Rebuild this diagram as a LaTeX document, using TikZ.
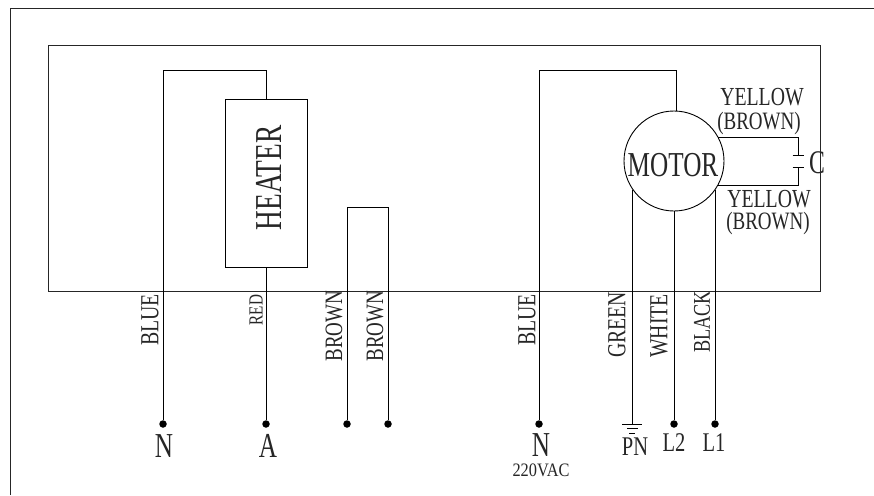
\documentclass[tikz,border=0pt]{standalone}
\usepackage{fontspec}
\newfontfamily\narrowfont[FakeStretch=0.76]{Liberation Serif}
\newfontfamily\bigfont[FakeStretch=0.72]{Liberation Serif}
\newfontfamily\widefont[FakeStretch=0.86]{Liberation Serif}
\tikzset{
  wire/.style={line width=0.9pt,color=black},
  frameline/.style={line width=1pt,color=black!85},
  term/.style={circle,fill=black,inner sep=0,minimum size=7.5pt},
  lab/.style={inner sep=0,text=black!85,font=\narrowfont\fontsize{#1}{#1}\selectfont},
  blab/.style={inner sep=0,text=black!85,font=\bigfont\fontsize{#1}{#1}\selectfont},
  vlab/.style={lab=#1,rotate=90}
}
\begin{document}
\begin{tikzpicture}[x=1pt,y=-1pt]
\useasboundingbox (0,0) rectangle (874,495);
\fill[white] (0,0) rectangle (874,495);
\coordinate (fa) at (10,495); \coordinate (fb) at (10,9); \coordinate (fc) at (874,9);
\draw[frameline] (fa) -- (fb) -- (fc);
\node[draw,frameline,inner sep=0,minimum width=772pt,minimum height=245pt] (box) at (434,168.5) {};
\node[draw,wire,inner sep=0,minimum width=82pt,minimum height=168pt] (heater) at (266,183) {};
\node[blab=38,rotate=90] (heatertxt) at (268.5,178) {HEATER};
\node[draw,wire,circle,inner sep=0,minimum size=100pt] (motor) at (674,161) {};
\node[blab=35] (motortxt) at (673,165) {MOTOR};
\node[term] (tN) at (163,424) {};
\node[term] (tA) at (266,424) {};
\node[term] (tB1) at (347,424) {};
\node[term] (tB2) at (388,424) {};
\node[term] (tN2) at (539,424) {};
\node[term] (tL2) at (674,424) {};
\node[term] (tL1) at (715,424) {};
\coordinate (tPN) at (632,424);
\coordinate (a1) at (163,70); \coordinate (a2) at (266,70);
\draw[wire] (tN) -- (a1) -- (a2) -- (heater.north);
\draw[wire] (heater.south) -- (tA);
\coordinate (b1) at (347,207); \coordinate (b2) at (388,207);
\draw[wire] (tB1) -- (b1) -- (b2) -- (tB2);
\coordinate (c1) at (539,70); \coordinate (c2) at (676,70); \coordinate (c3) at (676,111);
\draw[wire] (tN2) -- (c1) -- (c2) -- (c3);
\coordinate (g0) at (632,190); \draw[wire] (g0) -- (tPN);
\draw[wire] (motor.south) -- (tL2);
\coordinate (l0) at (715,190); \draw[wire] (l0) -- (tL1);
\coordinate (k1) at (718,137); \coordinate (k2) at (798,137); \coordinate (k3) at (798,155);
\coordinate (k4) at (798,167); \coordinate (k5) at (798,185); \coordinate (k6) at (718,185);
\draw[wire] (k1) -- (k2) -- (k3);
\draw[wire] (k4) -- (k5) -- (k6);
\coordinate (p1) at (792.5,155); \coordinate (p2) at (803.5,155);
\coordinate (p3) at (792.5,167); \coordinate (p4) at (803.5,167);
\draw[wire] (p1) -- (p2);
\draw[wire] (p3) -- (p4);
\coordinate (e1) at (622,424); \coordinate (e2) at (642,424);
\coordinate (e3) at (627,428.5); \coordinate (e4) at (638,428.5);
\coordinate (e5) at (629,433); \coordinate (e6) at (635,433);
\draw[wire] (e1) -- (e2);
\draw[wire] (e3) -- (e4);
\draw[wire] (e5) -- (e6);
\node[lab=26] (y1) at (762,97) {YELLOW};
\node[lab=25] (y2) at (759,123) {(BROWN)};
\node[lab=26] (y3) at (769,199) {YELLOW};
\node[lab=25] (y4) at (768,223) {(BROWN)};
\node[blab=33] (cap) at (817,163) {C};
\node[vlab=26] (w1) at (150,320) {BLUE};
\node[vlab=20] (w2) at (256,310) {RED};
\node[vlab=25] (w3) at (334,326) {BROWN};
\node[vlab=25] (w4) at (375,326) {BROWN};
\node[vlab=26] (w5) at (527,320) {BLUE};
\node[vlab=26] (w6) at (617,325) {GREEN};
\node[vlab=26] (w7) at (659,326) {WHITE};
\node[vlab=24] (w8) at (702,322) {BLACK};
\node[blab=35] (n1) at (164,446) {N};
\node[blab=35] (n2) at (268,446) {A};
\node[blab=35] (n3) at (541,445) {N};
\node[inner sep=0,text=black!85,font=\widefont\fontsize{19}{19}\selectfont] (n4) at (541,470) {220VAC};
\node[lab=27] (n5) at (635,447) {PN};
\node[lab=27] (n6) at (674,443) {L2};
\node[lab=27] (n7) at (714,443) {L1};
\end{tikzpicture}
\end{document}
